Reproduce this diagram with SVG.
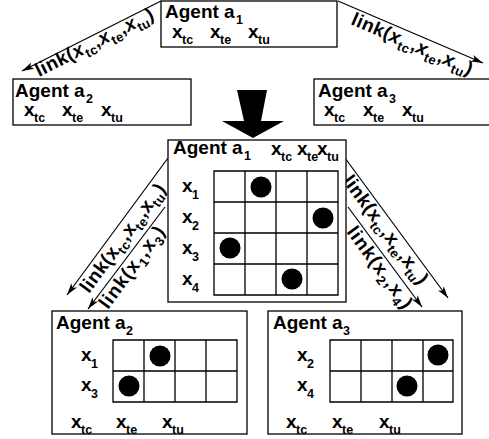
<svg xmlns="http://www.w3.org/2000/svg" width="489" height="439" viewBox="0 0 489 439">
<defs>
<style>
text{font-family:"Liberation Sans",Arial,sans-serif;font-weight:bold;fill:#000;}
.t{font-size:19px;}
.s{font-size:12.5px;}
.lk{font-size:19px;}
.ls{font-size:13px;}
.it{font-style:italic;}
.box{fill:#fff;stroke:#000;stroke-width:1.3;}
.grid{fill:none;stroke:#000;stroke-width:1.3;}
.conn{fill:none;stroke:#000;stroke-width:1.2;marker-end:url(#ah);}
</style>
<marker id="ah" viewBox="0 0 12 8" refX="12" refY="4" markerWidth="12" markerHeight="8" markerUnits="userSpaceOnUse" orient="auto">
<path d="M0,0.5 L12,4 L0,7.5 L3,4 z" fill="#000"/>
</marker>
</defs>

<g id="connectors">
<path class="conn" d="M161,1 L22,71"/>
<path class="conn" d="M338,1 L483,63"/>
<path class="conn" d="M168,158 L67,295"/>
<path class="conn" d="M165,207 L88,309"/>
<path class="conn" d="M345,158 L448,298"/>
<path class="conn" d="M348,207 L422,307"/>
<polygon points="237,90 267,90 261,121 284,121 253,138 222,121 244,121" fill="#000"/>
<text class="lk" transform="translate(39,77) rotate(-26.7)" textLength="130" lengthAdjust="spacing">link(<tspan class="it">x</tspan><tspan class="ls" dy="5">tc</tspan><tspan dy="-5">,</tspan><tspan class="it">x</tspan><tspan class="ls" dy="5">te</tspan><tspan dy="-5">,</tspan><tspan class="it">x</tspan><tspan class="ls" dy="5">tu</tspan><tspan dy="-5">)</tspan></text>
<text class="lk" transform="translate(350,24) rotate(23.2)" textLength="130" lengthAdjust="spacing">link(<tspan class="it">x</tspan><tspan class="ls" dy="5">tc</tspan><tspan dy="-5">,</tspan><tspan class="it">x</tspan><tspan class="ls" dy="5">te</tspan><tspan dy="-5">,</tspan><tspan class="it">x</tspan><tspan class="ls" dy="5">tu</tspan><tspan dy="-5">)</tspan></text>
<text class="lk" transform="translate(89,294) rotate(-53.6)" textLength="130" lengthAdjust="spacing">link(x<tspan class="ls" dy="5">tc</tspan><tspan dy="-5">,x</tspan><tspan class="ls" dy="5">te</tspan><tspan dy="-5">,x</tspan><tspan class="ls" dy="5">tu</tspan><tspan dy="-5">)</tspan></text>
<text class="lk" transform="translate(108,310) rotate(-53.6)" textLength="97" lengthAdjust="spacing">link(x<tspan class="ls" dy="5">1</tspan><tspan dy="-5">,x</tspan><tspan class="ls" dy="5">3</tspan><tspan dy="-5">)</tspan></text>
<text class="lk" transform="translate(342,181) rotate(53.6)" textLength="130" lengthAdjust="spacing">link(x<tspan class="ls" dy="5">tc</tspan><tspan dy="-5">,x</tspan><tspan class="ls" dy="5">te</tspan><tspan dy="-5">,x</tspan><tspan class="ls" dy="5">tu</tspan><tspan dy="-5">)</tspan></text>
<text class="lk" transform="translate(346,232) rotate(53.6)" textLength="97" lengthAdjust="spacing">link(x<tspan class="ls" dy="5">2</tspan><tspan dy="-5">,x</tspan><tspan class="ls" dy="5">4</tspan><tspan dy="-5">)</tspan></text>
</g>

<g id="top-a1">
<rect class="box" x="161" y="1" width="176" height="46"/>
<text class="t" x="165" y="18">Agent a</text><text class="s" x="236" y="24">1</text>
<text class="t" x="172" y="38">x</text><text class="s" x="182" y="44">tc</text>
<text class="t" x="210" y="38">x</text><text class="s" x="220" y="44">te</text>
<text class="t" x="248" y="38">x</text><text class="s" x="258" y="44">tu</text>
</g>

<g id="top-a2">
<rect class="box" x="13" y="79" width="178" height="46"/>
<text class="t" x="15" y="97">Agent a</text><text class="s" x="86" y="103">2</text>
<text class="t" x="24" y="116">x</text><text class="s" x="34" y="122">tc</text>
<text class="t" x="62" y="116">x</text><text class="s" x="72" y="122">te</text>
<text class="t" x="101" y="116">x</text><text class="s" x="111" y="122">tu</text>
</g>

<g id="top-a3">
<rect class="box" x="314" y="79" width="176" height="46"/>
<text class="t" x="318" y="97">Agent a</text><text class="s" x="389" y="103">3</text>
<text class="t" x="324" y="116">x</text><text class="s" x="334" y="122">tc</text>
<text class="t" x="363" y="116">x</text><text class="s" x="373" y="122">te</text>
<text class="t" x="402" y="116">x</text><text class="s" x="412" y="122">tu</text>
</g>

<g id="mid-a1">
<rect class="box" x="168" y="140" width="178" height="162"/>
<text class="t" x="173" y="154">Agent a</text><text class="s" x="244" y="160">1</text>
<text class="t" x="271" y="155">x</text><text class="s" x="281" y="161">tc</text>
<text class="t" x="297" y="155">x</text><text class="s" x="307" y="161">te</text>
<text class="t" x="317" y="155">x</text><text class="s" x="327" y="161">tu</text>
<path class="grid" d="M214,171 H338 V295 H214 Z M214,202 H338 M214,233 H338 M214,264 H338 M245,171 V295 M276,171 V295 M307,171 V295"/>
<circle cx="261" cy="187" r="10.5"/>
<circle cx="323" cy="218" r="10.5"/>
<circle cx="230" cy="248" r="10.5"/>
<circle cx="292" cy="279" r="10.5"/>
<text class="t" x="182" y="192">x</text><text class="s" x="192" y="199">1</text>
<text class="t" x="182" y="223">x</text><text class="s" x="192" y="230">2</text>
<text class="t" x="182" y="254">x</text><text class="s" x="192" y="261">3</text>
<text class="t" x="182" y="285">x</text><text class="s" x="192" y="292">4</text>
</g>

<g id="bot-a2">
<rect class="box" x="52" y="311" width="195" height="123"/>
<text class="t" x="56" y="329">Agent a</text><text class="s" x="126" y="335">2</text>
<path class="grid" d="M113,340 H237 V402 H113 Z M113,371 H237 M144,340 V402 M175,340 V402 M206,340 V402"/>
<circle cx="160" cy="356" r="10.5"/>
<circle cx="129" cy="386" r="10.5"/>
<text class="t" x="81" y="361">x</text><text class="s" x="91" y="368">1</text>
<text class="t" x="81" y="391">x</text><text class="s" x="91" y="398">3</text>
<text class="t" x="71" y="428">x</text><text class="s" x="81" y="434">tc</text>
<text class="t" x="116" y="428">x</text><text class="s" x="126" y="434">te</text>
<text class="t" x="162" y="428">x</text><text class="s" x="172" y="434">tu</text>
</g>

<g id="bot-a3">
<rect class="box" x="268" y="311" width="194" height="123"/>
<text class="t" x="273" y="329">Agent a</text><text class="s" x="343" y="335">3</text>
<path class="grid" d="M330,340 H453 V402 H330 Z M330,371 H453 M361,340 V402 M392,340 V402 M423,340 V402"/>
<circle cx="438" cy="355" r="10.5"/>
<circle cx="407" cy="386" r="10.5"/>
<text class="t" x="297" y="361">x</text><text class="s" x="307" y="368">2</text>
<text class="t" x="297" y="391">x</text><text class="s" x="307" y="398">4</text>
<text class="t" x="286" y="428">x</text><text class="s" x="296" y="434">tc</text>
<text class="t" x="332" y="428">x</text><text class="s" x="342" y="434">te</text>
<text class="t" x="379" y="428">x</text><text class="s" x="389" y="434">tu</text>
</g>
</svg>
